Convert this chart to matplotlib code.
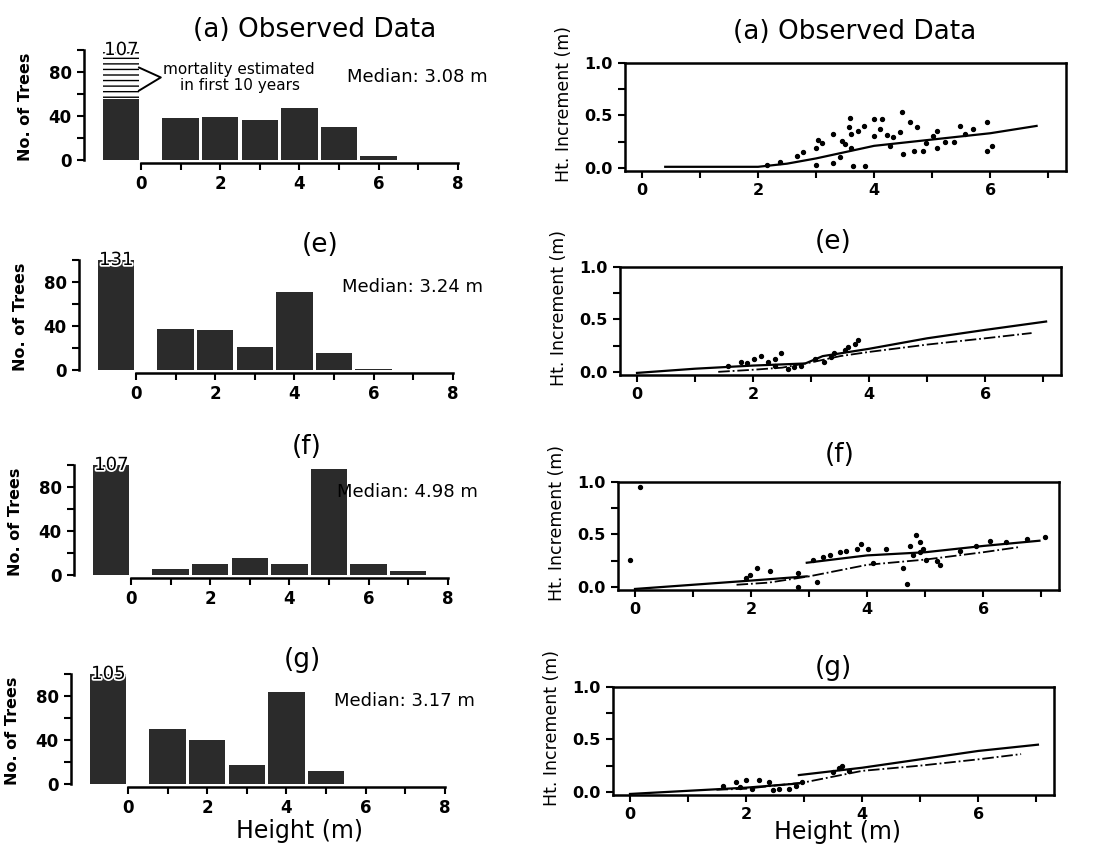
import numpy as np
import matplotlib.pyplot as plt
from matplotlib import patheffects

plt.rcParams['font.family'] = 'DejaVu Sans'

W, H = 1096, 858

# ---- histogram data (1 m height classes, first bar = dead trees)
hist_x = [-0.5, 1, 2, 3, 4, 5, 6, 7]
counts_a = [107, 38, 39, 36, 47, 30, 3, 0]
counts_e = [131, 37, 36, 21, 71, 15, 1, 0]
counts_f = [107, 5, 10, 15, 10, 96, 10, 3]
counts_g = [105, 50, 40, 17, 84, 12, 0, 0]
a_dead_observed = 55          # part of the dead bar that was observed
medians = [3.08, 3.24, 4.98, 3.17]
titles = ['(a) Observed Data', '(e)', '(f)', '(g)']

# ---- height increment vs height
pts_a_x = [2.15, 2.38, 2.67, 2.78, 3.0, 3.03, 3.1, 3.3, 3.41, 3.44, 3.5, 3.56, 3.59, 3.61,
           3.61, 3.73, 3.82, 4.0, 4.0, 4.1, 4.13, 4.22, 4.28, 4.33, 4.45, 4.48, 4.5, 4.62,
           4.68, 4.74, 4.84, 4.9, 5.02, 5.08, 5.08, 5.22, 5.37, 5.48, 5.56, 5.71, 5.94,
           5.94, 6.03, 3.0, 3.3, 3.64, 3.84]
pts_a_y = [0.03, 0.06, 0.11, 0.15, 0.19, 0.27, 0.24, 0.32, 0.10, 0.26, 0.23, 0.39, 0.48, 0.32,
           0.19, 0.35, 0.40, 0.47, 0.30, 0.37, 0.47, 0.31, 0.21, 0.29, 0.34, 0.53, 0.13, 0.44,
           0.16, 0.39, 0.16, 0.24, 0.30, 0.35, 0.19, 0.25, 0.25, 0.40, 0.32, 0.37, 0.44,
           0.16, 0.21, 0.03, 0.05, 0.02, 0.02]
line_a_x = [0.4, 1.0, 2.0, 2.5, 3.0, 3.5, 4.0, 4.5, 5.0, 5.5, 6.0, 6.8]
line_a_y = [0.01, 0.01, 0.01, 0.04, 0.09, 0.15, 0.21, 0.24, 0.27, 0.30, 0.33, 0.40]

pts_e_x = [1.56, 1.79, 1.9, 2.02, 2.13, 2.25, 2.37, 2.37, 2.48, 2.6, 2.71, 2.83, 3.06, 3.23,
           3.35, 3.4, 3.58, 3.63, 3.75, 3.8]
pts_e_y = [0.06, 0.09, 0.08, 0.12, 0.15, 0.09, 0.12, 0.06, 0.18, 0.03, 0.05, 0.06, 0.12, 0.09,
           0.14, 0.18, 0.21, 0.24, 0.27, 0.30]
solid_e_x = [0, 1, 2, 2.9, 3.2, 4, 5, 6, 7.05]
solid_e_y = [-0.01, 0.03, 0.06, 0.08, 0.15, 0.22, 0.32, 0.40, 0.48]
dash_e_x = [1.4, 2, 2.5, 3, 3.5, 4, 5, 6, 6.8]
dash_e_y = [0.0, 0.02, 0.04, 0.09, 0.15, 0.19, 0.26, 0.32, 0.37]

pts_f_x = [0.09, -0.09, 1.92, 1.98, 2.1, 2.32, 2.81, 2.81, 3.13, 3.07, 3.24, 3.36, 3.53, 3.64,
           3.82, 3.9, 4.02, 4.1, 4.33, 4.62, 4.68, 4.74, 4.79, 4.85, 4.91, 4.91, 4.97, 5.02,
           5.2, 5.25, 5.6, 5.88, 6.11, 6.4, 6.75, 7.06]
pts_f_y = [0.95, 0.26, 0.08, 0.11, 0.18, 0.15, 0.13, 0.0, 0.05, 0.26, 0.28, 0.30, 0.33, 0.34,
           0.36, 0.41, 0.36, 0.23, 0.36, 0.18, 0.03, 0.39, 0.30, 0.49, 0.43, 0.33, 0.36, 0.26,
           0.25, 0.21, 0.34, 0.39, 0.44, 0.43, 0.46, 0.48]
solid_f_lo_x = [0, 1, 2, 2.96]
solid_f_lo_y = [-0.02, 0.02, 0.06, 0.10]
solid_f_hi_x = [2.96, 4, 5, 6, 6.97]
solid_f_hi_y = [0.23, 0.30, 0.33, 0.39, 0.44]
dash_f_x = [1.75, 2.3, 3, 4, 5, 6, 6.63]
dash_f_y = [0.02, 0.04, 0.10, 0.21, 0.26, 0.33, 0.38]

pts_g_x = [1.6, 1.83, 1.89, 2.0, 2.11, 2.23, 2.4, 2.46, 2.57, 2.74, 2.86, 2.97, 3.49, 3.6,
           3.66, 3.77]
pts_g_y = [0.06, 0.09, 0.05, 0.11, 0.03, 0.11, 0.09, 0.02, 0.03, 0.03, 0.06, 0.09, 0.19, 0.23,
           0.25, 0.20]
solid_g_lo_x = [0, 1, 2, 2.91]
solid_g_lo_y = [-0.02, 0.01, 0.04, 0.08]
solid_g_hi_x = [2.91, 4, 5, 6, 7.03]
solid_g_hi_y = [0.16, 0.23, 0.31, 0.39, 0.45]
dash_g_x = [1.49, 2, 3, 4, 5, 6, 6.74]
dash_g_y = [0.02, 0.03, 0.09, 0.20, 0.25, 0.31, 0.36]

fig = plt.figure(figsize=(W / 100, H / 100), dpi=100)


def px_axes(left, top, width, height):
    return fig.add_axes([left / W, 1 - (top + height) / H, width / W, height / H])


def fig_text(x, y, s, **kw):
    fig.text(x / W, 1 - y / H, s, ha='center', va='center', **kw)


bar_w = 0.92
bar_col = '#2b2b2b'

# ---------------- left column: histograms
hist_left = [83.6, 78.6, 73.6, 70.6]
hist_top = [50, 260, 465, 674]
all_counts = [counts_a, counts_e, counts_f, counts_g]
for i, counts in enumerate(all_counts):
    ax = px_axes(hist_left[i], hist_top[i], 386, 113)
    shown = np.minimum(counts, 100)
    if i == 0:
        heights = list(shown)
        heights[0] = a_dead_observed
        ax.bar(hist_x, heights, width=bar_w, color=bar_col)
        ax.bar(hist_x[0], shown[0] - a_dead_observed, bottom=a_dead_observed, width=bar_w,
               facecolor='white', edgecolor='black', lw=0, hatch='---')
        ax.text(0.55, 82, 'mortality estimated', fontsize=11, ha='left', va='center')
        ax.text(0.98, 68, 'in first 10 years', fontsize=11, ha='left', va='center')
        ax.plot([-0.05, 0.5, -0.05], [84, 75, 63], color='black', lw=1.4)
    else:
        ax.bar(hist_x, shown, width=bar_w, color=bar_col)
    ax.text(hist_x[0], 100, str(counts[0]), fontsize=13, ha='center', va='center',
            path_effects=[patheffects.withStroke(linewidth=2.5, foreground='white')])
    ax.text(5.2, 75, 'Median: %.2f m' % medians[i], fontsize=13, ha='left', va='center')

    ax.set_xlim(-1.45, 8.3)
    ax.set_ylim(-3, 100)
    for s in ['top', 'right']:
        ax.spines[s].set_visible(False)
    ax.spines['left'].set_bounds(0, 100)
    ax.spines['bottom'].set_bounds(0, 8)
    for s in ['left', 'bottom']:
        ax.spines[s].set_linewidth(1.8)
    ax.set_xticks(range(0, 9))
    ax.set_xticklabels(['0', '', '2', '', '4', '', '6', '', '8'])
    ax.set_yticks(range(0, 101, 20))
    ax.set_yticklabels(['0', '', '40', '', '80', ''])
    ax.tick_params(direction='out', length=5, width=1.5, labelsize=12)
    plt.setp(ax.get_xticklabels() + ax.get_yticklabels(), fontweight='bold')
    ax.set_ylabel('No. of Trees', fontsize=11.5, fontweight='bold')
    ax.yaxis.set_label_coords(-0.13, 0.5)
    fig_text([315, 320, 307, 302][i], [30, 245, 447, 660][i], titles[i], fontsize=19)

fig_text(300, 831, 'Height (m)', fontsize=17)

# ---------------- right column: height increment
sc_left = [624.6, 619.6, 617.6, 612.6]
sc_top = [63, 267, 482, 687]
scatter_sets = [(pts_a_x, pts_a_y), (pts_e_x, pts_e_y), (pts_f_x, pts_f_y), (pts_g_x, pts_g_y)]
for i in range(4):
    ax = px_axes(sc_left[i], sc_top[i], 441, 108)
    px, py = scatter_sets[i]
    ax.scatter(px, py, s=8, color='black', zorder=3)
    if i == 0:
        ax.plot(line_a_x, line_a_y, color='black', lw=1.6)
    elif i == 1:
        ax.plot(solid_e_x, solid_e_y, color='black', lw=1.6)
        ax.plot(dash_e_x, dash_e_y, color='black', lw=1.3, ls='-.')
    elif i == 2:
        ax.plot(solid_f_lo_x, solid_f_lo_y, color='black', lw=1.6)
        ax.plot(solid_f_hi_x, solid_f_hi_y, color='black', lw=1.6)
        ax.plot(dash_f_x, dash_f_y, color='black', lw=1.3, ls='-.')
    else:
        ax.plot(solid_g_lo_x, solid_g_lo_y, color='black', lw=1.6)
        ax.plot(solid_g_hi_x, solid_g_hi_y, color='black', lw=1.6)
        ax.plot(dash_g_x, dash_g_y, color='black', lw=1.3, ls='-.')

    ax.set_xlim(-0.3, 7.3)
    ax.set_ylim(-0.03, 1.0)
    for s in ax.spines.values():
        s.set_linewidth(1.8)
    ax.set_xticks([0, 2, 4, 6])
    ax.set_xticks([1, 3, 5, 7], minor=True)
    ax.set_yticks([0.0, 0.5, 1.0])
    ax.set_yticklabels(['0.0', '0.5', '1.0'])
    ax.set_yticks([0.25, 0.75], minor=True)
    ax.tick_params(which='both', direction='out', length=5, width=1.5, labelsize=11.5)
    plt.setp(ax.get_xticklabels() + ax.get_yticklabels(), fontweight='bold')
    ax.set_ylabel('Ht. Increment (m)', fontsize=12.5)
    ax.yaxis.set_label_coords(-0.118, 0.62)
    fig_text([855, 833, 840, 833][i], [32, 242, 455, 668][i], titles[i], fontsize=19)

fig_text(838, 832, 'Height (m)', fontsize=17)

fig.savefig('out.png', dpi=100, facecolor='white')
